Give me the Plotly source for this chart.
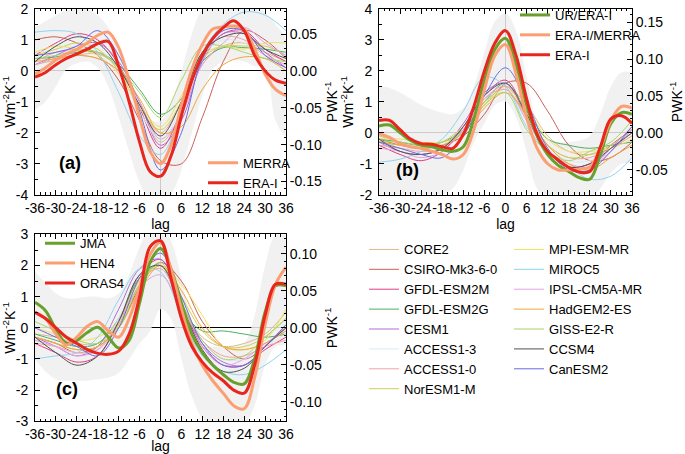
import plotly.graph_objects as go

# ---------------- data ----------------
lags_obs = list(range(-36, 37, 3))
lags_mod = list(range(-36, 37, 6))

x_ticks = list(range(-36, 37, 6))
a_yticks = [-4, -3, -2, -1, 0, 1, 2]
b_yticks = [-2, -1, 0, 1, 2, 3, 4]
c_yticks = [-3, -2, -1, 0, 1, 2, 3]
a_rticks = [-0.15, -0.10, -0.05, 0.00, 0.05]
b_rticks = [-0.05, 0.00, 0.05, 0.10, 0.15]
c_rticks = [-0.10, -0.05, 0.00, 0.05, 0.10]
PW_PER_WM2 = 0.042  # right-axis scale factor (PW K-1 per W m-2 K-1)

model_names = ["CORE2", "CSIRO-Mk3-6-0", "GFDL-ESM2M", "GFDL-ESM2G", "CESM1",
               "ACCESS1-3", "ACCESS1-0", "NorESM1-M", "MPI-ESM-MR", "MIROC5",
               "IPSL-CM5A-MR", "HadGEM2-ES", "GISS-E2-R", "CCSM4", "CanESM2"]
model_colors = ["#d9b98a", "#c8605a", "#e23c82", "#4caf62", "#b56ad6",
                "#d6ecf0", "#f2a3a3", "#cfcf55", "#f0e060", "#8fd3ef",
                "#e2a2e2", "#f2a43a", "#a8d46a", "#505050", "#6a6ae0"]

# panel (a): model values at lags_mod
a_models = [
    [0.2, 0.35, 0.5, 0.55, 0.1, -1.0, -2.3, -1.4, 0.2, 0.8, 0.9, 0.6, 0.3],
    [1.0, 1.1, 0.9, 0.5, -0.3, -1.6, -2.9, -3.0, -1.5, 0.3, 1.3, 1.0, 0.4],
    [0.5, 0.9, 1.2, 1.0, 0.2, -1.2, -2.5, -1.3, 0.4, 1.2, 1.3, 0.7, 0.3],
    [0.4, 0.45, 0.6, 0.6, 0.2, -0.6, -1.4, -0.9, 0.3, 0.75, 0.75, 0.7, 0.6],
    [0.2, 0.5, 0.8, 0.9, 0.3, -1.0, -2.4, -1.6, 0.3, 1.2, 1.2, 0.6, 0.1],
    [0.6, 0.7, 0.8, 0.7, 0.0, -1.3, -2.2, -1.2, 0.5, 1.0, 0.9, 0.5, 0.2],
    [0.3, 0.6, 0.7, 0.6, 0.1, -1.1, -2.0, -1.0, 0.6, 1.1, 1.0, 0.5, 0.2],
    [0.5, 0.7, 0.9, 0.7, 0.0, -1.2, -1.9, -1.0, 0.4, 0.8, 0.8, 0.8, 0.5],
    [0.6, 0.8, 0.7, 0.5, -0.1, -1.1, -1.8, -0.8, 0.5, 0.8, 0.7, 0.9, 0.9],
    [1.25, 1.3, 1.2, 0.6, -0.7, -2.1, -2.7, -1.3, 0.6, 1.5, 1.9, 1.8, 1.3],
    [0.2, 0.4, 0.5, 0.4, 0.0, -1.0, -2.2, -1.4, 0.2, 0.9, 1.4, 0.9, 0.5],
    [0.3, 0.4, 0.5, 0.4, 0.0, -0.9, -2.0, -1.8, -0.6, 0.2, 0.45, 0.4, 0.0],
    [0.4, 0.5, 0.65, 0.6, 0.1, -0.7, -1.5, -0.3, 0.8, 0.8, 0.6, 0.4, 0.3],
    [0.3, 0.8, 1.1, 0.9, 0.1, -1.1, -2.1, -1.0, 0.6, 1.1, 1.2, 0.7, 0.4],
    [0.5, 0.6, 0.8, 1.3, 0.5, -1.3, -3.2, -2.0, 0.4, 1.3, 1.3, 0.5, 0.1],
]
b_models = [
    [-0.1, -0.3, -0.4, -0.3, 0.0, 0.9, 1.5, 0.9, -0.1, -0.6, -0.7, -0.5, 0.0],
    [-0.2, -0.4, -0.5, -0.4, -0.1, 0.6, 1.6, 1.6, 0.7, -0.4, -0.9, -0.8, -0.3],
    [-0.4, -0.7, -0.9, -0.6, 0.2, 1.2, 1.7, 0.6, -0.6, -1.1, -1.0, -0.4, 0.1],
    [-0.2, -0.3, -0.4, -0.3, 0.1, 1.0, 1.6, 0.7, -0.2, -0.4, -0.5, -0.4, -0.3],
    [-0.3, -0.6, -0.7, -0.5, 0.3, 1.3, 1.6, 0.5, -0.7, -1.2, -1.1, -0.5, 0.2],
    [-0.3, -0.5, -0.5, -0.4, 0.2, 1.2, 1.6, 0.6, -0.5, -0.9, -0.9, -0.5, 0.0],
    [-0.4, -0.5, -0.6, -0.5, 0.1, 1.1, 1.5, 0.6, -0.4, -0.8, -0.8, -0.5, -0.1],
    [-0.3, -0.4, -0.5, -0.3, 0.2, 1.0, 1.4, 0.5, -0.4, -0.8, -0.7, -0.4, 0.1],
    [-0.2, -0.2, -0.3, -0.3, 0.0, 0.9, 1.4, 0.8, -0.2, -0.6, -0.6, -0.5, -0.2],
    [-0.95, -0.85, -0.6, -0.2, 0.7, 1.8, 1.5, 0.2, -0.6, -1.1, -1.5, -1.4, -0.8],
    [-0.5, -0.6, -0.8, -0.6, 0.1, 1.1, 1.4, 0.4, -0.6, -1.0, -1.1, -0.6, 0.1],
    [-0.3, -0.4, -0.5, -0.4, 0.0, 0.8, 1.3, 0.6, -0.4, -1.0, -1.2, -0.8, -0.4],
    [-0.3, -0.3, -0.4, -0.3, 0.0, 0.9, 1.3, 0.1, -0.6, -0.9, -0.6, -0.3, 0.4],
    [-0.2, -0.6, -0.7, -0.5, 0.2, 1.2, 1.6, 0.6, -0.6, -1.1, -1.0, -0.5, 0.0],
    [-0.3, -0.5, -0.7, -0.8, -0.1, 1.2, 2.1, 1.0, -0.5, -1.2, -1.2, -0.6, 0.2],
]
c_models = [
    [-0.2, -0.3, -0.5, -0.5, 0.2, 1.6, 2.0, 0.8, -0.3, -0.6, -0.5, -0.2, 0.5],
    [-0.3, -0.5, -0.8, -0.6, 0.0, 1.3, 2.1, 1.5, 0.2, -0.6, -1.0, -0.6, 0.1],
    [-0.5, -0.8, -1.1, -0.9, 0.2, 1.7, 2.2, 0.8, -0.6, -1.2, -1.2, -0.7, -0.3],
    [-0.2, -0.4, -0.6, -0.5, 0.3, 1.6, 2.0, 0.6, -0.1, -0.1, -0.2, -0.3, -0.2],
    [-0.3, -0.6, -0.9, -0.6, 0.6, 1.9, 2.2, 0.8, -0.5, -1.1, -1.2, -0.6, 0.0],
    [-0.4, -0.6, -0.8, -0.7, 0.3, 1.7, 2.0, 0.7, -0.4, -1.0, -1.0, -0.6, -0.2],
    [-0.5, -0.6, -0.8, -0.7, 0.1, 1.5, 1.9, 0.7, -0.4, -0.9, -0.9, -0.6, -0.4],
    [-0.3, -0.5, -0.7, -0.6, 0.1, 1.4, 2.0, 1.0, -0.1, -0.6, -0.6, -0.3, 0.3],
    [0.0, -0.2, -0.4, -0.3, 0.2, 1.5, 2.0, 1.4, 0.4, -0.6, -0.7, -0.4, 0.6],
    [-1.0, -0.9, -0.8, -0.3, 0.9, 1.9, 1.8, 0.4, -0.9, -1.4, -1.5, -1.2, -0.7],
    [-0.4, -0.6, -0.9, -0.7, 0.2, 1.3, 1.7, 0.6, -0.6, -1.2, -1.0, -0.5, -0.1],
    [-0.3, -0.5, -0.7, -0.6, 0.0, 1.2, 2.0, 1.2, 0.0, -0.6, -0.7, -0.5, -0.1],
    [0.2, -0.1, -0.4, -0.5, 0.0, 1.4, 2.1, 0.8, -0.4, -1.0, -0.9, -0.3, 0.3],
    [-0.3, -0.8, -1.2, -0.9, 0.2, 1.7, 2.0, 0.7, -0.7, -1.4, -1.3, -0.6, 0.0],
    [0.0, -0.3, -0.6, -0.9, 0.0, 1.6, 2.4, 1.0, -0.5, -1.2, -1.2, -0.6, 0.1],
]

# observational estimates at lags_obs
a_merra = [-0.1, 0.1, 0.35, 0.55, 0.7, 0.9, 1.15, 1.25, 0.75, -0.3, -1.5, -2.6, -3.0,
           -2.4, -1.1, 0.05, 0.85, 1.35, 1.42, 1.45, 1.35, 0.7, -0.1, -0.6, -0.8]
a_erai = [-0.2, -0.05, 0.2, 0.4, 0.55, 0.7, 0.88, 0.95, 0.15, -1.0, -2.3, -3.25, -3.4,
          -2.75, -1.45, -0.3, 0.5, 1.05, 1.4, 1.62, 1.3, 0.5, 0.0, -0.3, -0.4]
b_ur_erai = [0.22, 0.25, 0.0, -0.25, -0.4, -0.45, -0.55, -0.6, -0.45, 0.45, 1.7, 2.7, 3.05,
             2.2, 0.9, -0.1, -0.7, -1.05, -1.25, -1.45, -1.5, -0.7, 0.3, 0.65, 0.6]
b_erai_merra = [-0.03, -0.15, -0.35, -0.45, -0.5, -0.6, -0.7, -0.85, -0.7, 0.1, 1.4, 2.5, 2.85,
                1.9, 0.5, -0.5, -1.0, -1.2, -1.2, -1.18, -1.1, -0.5, 0.4, 0.85, 0.8]
b_erai = [0.4, 0.4, 0.1, -0.2, -0.35, -0.37, -0.45, -0.5, -0.05, 0.85, 2.0, 2.9, 3.3,
          2.5, 1.1, -0.05, -0.6, -0.88, -1.12, -1.27, -1.25, -0.45, 0.45, 0.55, 0.3]
c_jma = [0.82, 0.55, -0.05, -0.5, -0.4, -0.15, 0.02, -0.3, -0.65, -0.4, 0.8, 2.1, 2.55,
         1.9, 0.8, -0.2, -0.8, -1.2, -1.5, -1.75, -1.8, -1.0, 0.5, 1.35, 1.35]
c_hen4 = [0.5, 0.3, -0.2, -0.55, -0.3, 0.05, 0.2, -0.1, -0.3, 0.3, 1.3, 2.35, 2.75,
          1.9, 0.6, -0.5, -1.2, -1.7, -2.1, -2.5, -2.6, -1.6, 0.1, 1.4, 1.95]
c_oras4 = [0.5, 0.3, 0.0, -0.3, -0.5, -0.7, -0.82, -0.85, -0.75, -0.2, 1.0, 2.6, 2.8,
           1.6, 0.3, -0.6, -1.1, -1.45, -1.7, -2.0, -2.1, -1.2, 0.4, 1.4, 1.4]

# grey envelopes at lags_obs
a_upper = [1.4, 1.6, 1.8, 1.95, 2.0, 2.0, 1.8, 1.4, 0.6, -0.4, -1.2, -1.6, -1.6,
           -1.1, 0.0, 1.2, 2.0, 2.2, 2.2, 2.2, 2.2, 2.1, 1.9, 1.5, 1.0]
a_lower = [-1.25, -1.0, -0.5, 0.05, 0.25, 0.3, 0.1, -0.5, -1.5, -2.6, -3.6, -4.2, -4.3,
           -4.0, -3.2, -2.0, -0.8, 0.05, 0.3, 0.35, 0.3, 0.15, 0.1, -1.6, -2.1]
b_upper = [1.5, 1.45, 1.3, 1.1, 0.9, 0.75, 0.65, 0.6, 0.8, 1.5, 2.6, 3.6, 3.85,
           3.3, 1.8, 0.3, -0.2, -0.3, -0.3, -0.25, -0.1, 0.6, 1.5, 1.95, 1.9]
b_lower = [-2.1, -2.1, -2.1, -2.1, -2.1, -2.1, -2.0, -1.8, -1.2, -0.3, 0.3, 0.9, 1.0,
           0.5, -0.6, -1.8, -2.1, -2.1, -2.1, -2.1, -2.1, -1.8, -1.3, -1.0, -0.9]
c_upper = [1.8, 1.45, 1.1, 0.95, 0.95, 1.0, 1.0, 0.95, 1.1, 1.7, 2.6, 3.2, 3.3,
           2.8, 1.6, 0.2, -0.5, -0.6, -0.6, -0.6, -0.5, 0.4, 2.0, 3.0, 3.1]
c_lower = [-1.0, -1.4, -1.65, -1.7, -1.7, -1.7, -1.65, -1.6, -1.45, -1.0, -0.5, -0.1, 0.6,
           0.3, -1.0, -2.2, -2.9, -3.1, -3.1, -3.1, -3.1, -2.5, -1.2, -0.6, -0.5]

# ---------------- styling ----------------
FONT = "Liberation Sans, Arial, Helvetica, sans-serif"
RED = "#e8261e"
SALMON = "#fb9e72"
GREEN = "#67a02a"
BAND = "rgba(238,238,238,0.85)"

W, H = 685, 454
def px_x(a, b):
    return [a / W, b / W]
def px_y(top, bottom):
    return [(H - bottom) / H, (H - top) / H]

panels = [
    dict(x="x", y="y", r="y4", xd=px_x(35, 286), yd=px_y(6, 193), yr=[-4, 2],
         yt=a_yticks, rt=a_rticks, models=a_models, upper=a_upper, lower=a_lower,
         obs=[("MERRA", a_merra, SALMON), ("ERA-I", a_erai, RED)], legend="legend",
         label="(a)", lab_xy=(0.088, 0.107)),
    dict(x="x2", y="y2", r="y5", xd=px_x(379, 632), yd=px_y(6, 193), yr=[-2, 4],
         yt=b_yticks, rt=b_rticks, models=b_models, upper=b_upper, lower=b_lower,
         obs=[("UR/ERA-I", b_ur_erai, GREEN), ("ERA-I/MERRA", b_erai_merra, SALMON),
              ("ERA-I", b_erai, RED)], legend="legend2",
         label="(b)", lab_xy=(0.06, 0.07)),
    dict(x="x3", y="y3", r="y6", xd=px_x(35, 286), yd=px_y(233, 421), yr=[-3, 3],
         yt=c_yticks, rt=c_rticks, models=c_models, upper=c_upper, lower=c_lower,
         obs=[("JMA", c_jma, GREEN), ("HEN4", c_hen4, SALMON), ("ORAS4", c_oras4, RED)],
         legend="legend3", label="(c)", lab_xy=(0.075, 0.11)),
]

fig = go.Figure()

for pi, p in enumerate(panels):
    # grey envelope
    fig.add_trace(go.Scatter(
        x=lags_obs + lags_obs[::-1], y=p["upper"] + p["lower"][::-1],
        mode="lines", fill="toself", fillcolor=BAND, line=dict(width=0, shape="spline"),
        xaxis=p["x"], yaxis=p["y"], showlegend=False, hoverinfo="skip"))
    # model lines
    for mi, (name, col, vals) in enumerate(zip(model_names, model_colors, p["models"])):
        show = pi == 0
        fig.add_trace(go.Scatter(
            x=lags_mod, y=vals, mode="lines", name=name,
            line=dict(color=col, width=1, shape="spline", smoothing=1.0),
            xaxis=p["x"], yaxis=p["y"], showlegend=show,
            legend="legend4" if mi < 8 else "legend5"))
    # observational estimates
    for name, vals, col in p["obs"]:
        fig.add_trace(go.Scatter(
            x=lags_obs, y=vals, mode="lines", name=name,
            line=dict(color=col, width=3, shape="spline", smoothing=1.0),
            xaxis=p["x"], yaxis=p["y"], legend=p["legend"]))
    # anchor trace for right axis
    fig.add_trace(go.Scatter(x=[], y=[], xaxis=p["x"], yaxis=p["r"],
                             showlegend=False, hoverinfo="skip"))

axis_font = dict(family=FONT, size=14, color="black")
layout = dict(
    width=W, height=H, margin=dict(l=0, r=0, t=0, b=0),
    paper_bgcolor="white", plot_bgcolor="rgba(0,0,0,0)",
    font=dict(family=FONT, size=14, color="black"),
    annotations=[],
)

for i, p in enumerate(panels):
    sfx = "" if i == 0 else str(i + 1)
    xname = "xaxis" + sfx
    yname = "yaxis" + sfx
    rname = "yaxis" + p["r"][1:]
    layout[xname] = dict(
        domain=p["xd"], anchor=p["y"], range=[-36, 36],
        tickmode="array", tickvals=x_ticks, ticktext=[str(v) for v in x_ticks],
        tickangle=0, ticks="inside", ticklen=5, tickcolor="black",
        showline=True, linecolor="black", linewidth=1, mirror="ticks",
        showgrid=False, zeroline=True, zerolinecolor="black", zerolinewidth=1,
        tickfont=axis_font, automargin=False, ticklabeloverflow="allow",
        ticklabelstandoff=0,
        title=dict(text="lag", font=axis_font, standoff=4),
        minor=dict(dtick=1.5, tick0=-36, ticks="inside", ticklen=2.5,
                   tickcolor="black", showgrid=False),
    )
    layout[yname] = dict(
        domain=p["yd"], anchor=p["x"], range=p["yr"],
        tickmode="array", tickvals=p["yt"], ticktext=[str(v) for v in p["yt"]],
        ticks="inside", ticklen=5, tickcolor="black",
        showline=True, linecolor="black", linewidth=1, mirror=False,
        showgrid=False, zeroline=True, zerolinecolor="black", zerolinewidth=1,
        tickfont=axis_font, automargin=False, ticklabeloverflow="allow",
        ticklabelstandoff=3,
        title=dict(text="Wm<sup>-2</sup>K<sup>-1</sup>", font=axis_font, standoff=2),
        minor=dict(dtick=0.5, ticks="inside", ticklen=2.5, tickcolor="black",
                   showgrid=False),
    )
    layout[rname] = dict(
        overlaying=p["y"], side="right", anchor=p["x"],
        range=[p["yr"][0] * PW_PER_WM2, p["yr"][1] * PW_PER_WM2],
        tickmode="array", tickvals=p["rt"], ticktext=[f"{v:.2f}" for v in p["rt"]],
        ticks="inside", ticklen=5, tickcolor="black",
        showline=True, linecolor="black", linewidth=1,
        showgrid=False, zeroline=False, tickfont=axis_font, automargin=False,
        ticklabeloverflow="allow",
        title=dict(text="PWK<sup>-1</sup>", font=axis_font, standoff=6),
        minor=dict(dtick=0.01, tick0=0, ticks="inside", ticklen=2.5,
                   tickcolor="black", showgrid=False),
    )
    layout["annotations"].append(dict(
        text="<b>" + p["label"] + "</b>", xref=p["x"] + " domain", yref=p["y"] + " domain",
        x=p["lab_xy"][0], y=p["lab_xy"][1], showarrow=False,
        font=dict(family=FONT, size=18, color="black")))

leg_common = dict(bgcolor="rgba(0,0,0,0)", borderwidth=0, itemwidth=30,
                  font=dict(family=FONT, size=13, color="black"),
                  tracegroupgap=0, xanchor="left")
layout["legend"] = dict(leg_common, x=203 / W, y=(H - 171) / H, yanchor="middle")
layout["legend2"] = dict(leg_common, x=515 / W, y=(H - 32) / H, yanchor="middle")
layout["legend3"] = dict(leg_common, x=40 / W, y=(H - 262) / H, yanchor="middle")
layout["legend4"] = dict(leg_common, x=364 / W, y=(H - 233) / H, yanchor="top")
layout["legend5"] = dict(leg_common, x=509 / W, y=(H - 233) / H, yanchor="top")

fig.update_layout(**layout)
fig.write_html("out.html", config={"displayModeBar": False},
               post_script="document.body.style.margin='0px';document.body.style.overflow='hidden';")
